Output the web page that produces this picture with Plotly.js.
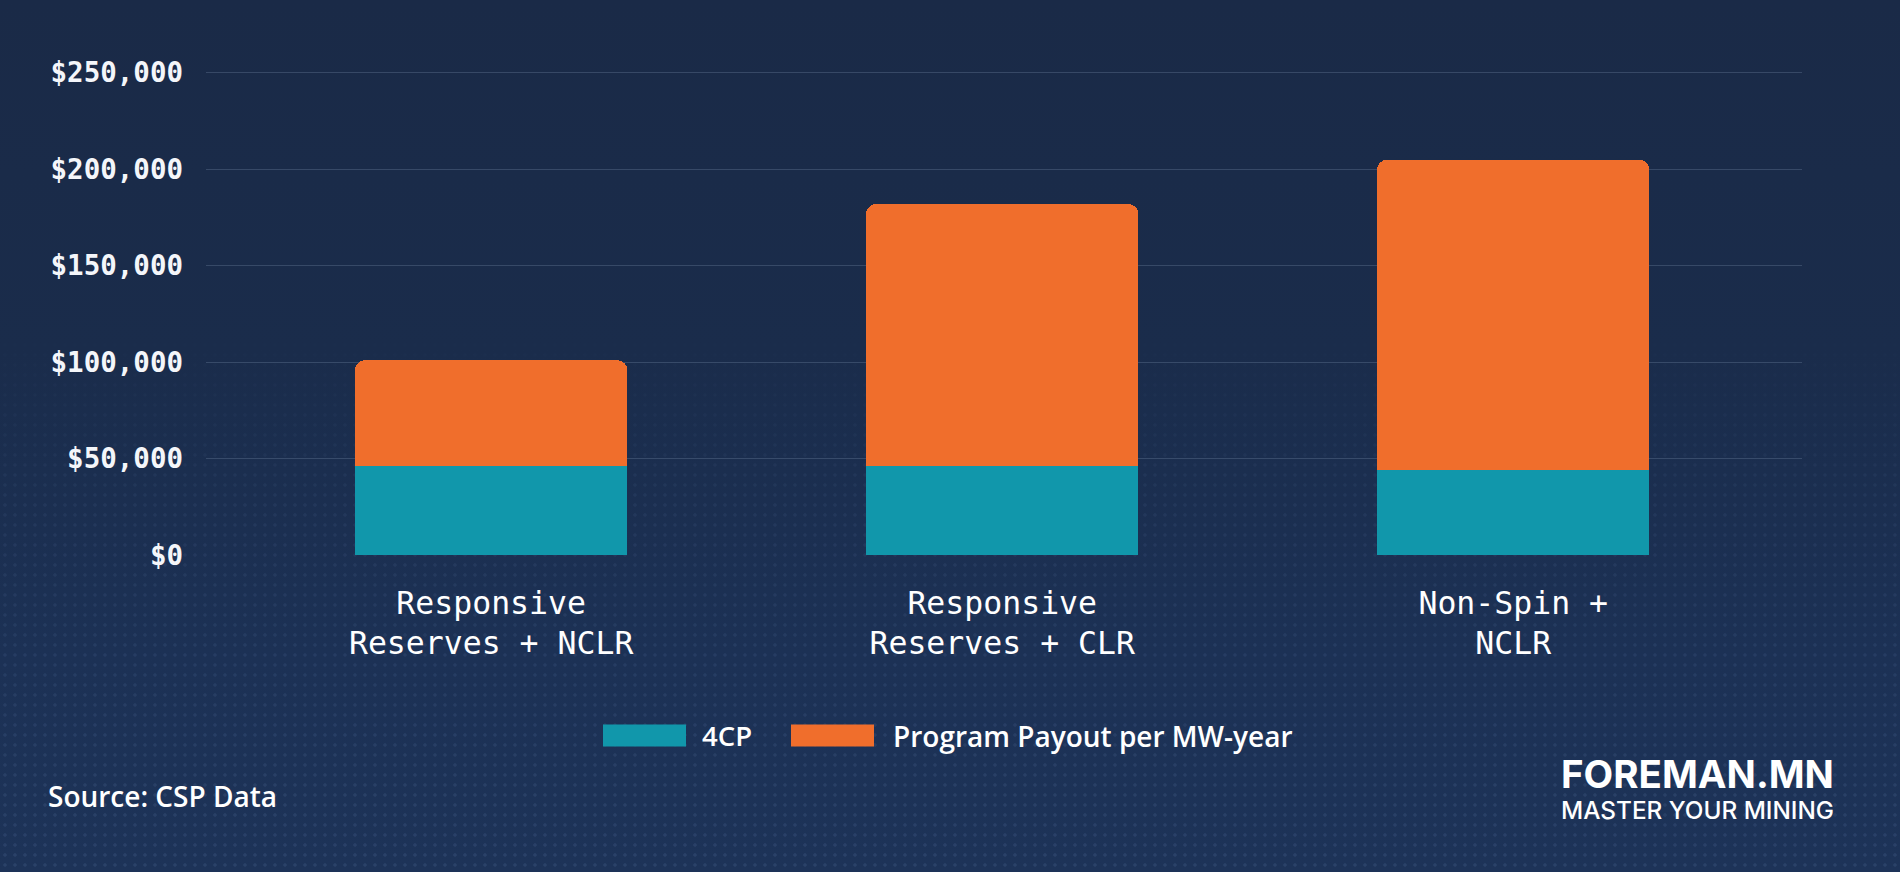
<!DOCTYPE html>
<html>
<head>
<meta charset="utf-8">
<script src="https://cdn.plot.ly/plotly-3.0.1.min.js"></script>
<style>
  html, body { margin:0; padding:0; width:1900px; height:872px; overflow:hidden; }
  body { background: linear-gradient(180deg, #1a2a47 0%, #1a2c4b 40%, #1c3155 75%, #1d3358 100%); position:relative; }
  #dots { position:absolute; left:0; top:0; width:1900px; height:872px;
    background-image: radial-gradient(circle, rgba(120,150,200,0.15) 1.4px, transparent 2px);
    background-size: 10px 10px;
    -webkit-mask-image: linear-gradient(180deg, transparent 0%, transparent 36%, rgba(0,0,0,0.6) 58%, #000 100%);
    mask-image: linear-gradient(180deg, transparent 0%, transparent 36%, rgba(0,0,0,0.6) 58%, #000 100%); }
  #chart { position:absolute; left:0; top:0; width:1900px; height:872px; }
</style>
</head>
<body>
<div id="dots"></div>
<div id="chart"></div>
<script>
// ---- data ----
const categories = ["Responsive<br>Reserves + NCLR", "Responsive<br>Reserves + CLR", "Non-Spin +<br>NCLR"];
const fourCP = [46000, 46000, 44000];
const programPayout = [55000, 136000, 161000];
const seriesNames = ["4CP", "Program Payout per MW-year"];
const yTickVals = [0, 50000, 100000, 150000, 200000, 250000];
const yTickText = ["$0", "$50,000", "$100,000", "$150,000", "$200,000", "$250,000"];
const sourceText = "Source: CSP Data";
const logoTitle = "FOREMAN.MN";
const logoSub = "MASTER YOUR MINING";

// ---- styles / layout ----
const TEAL = "#1197ab";
const ORANGE = "#f06e2c";
const W = 1900, H = 872;
const L = 206, R = 98, T = 69, B = 317;
const PW = W - L - R, PH = H - T - B;
const px = x => (x - L) / PW;
const py = y => (H - B - y) / PH;

const traces = [
  { type: "bar", x: [0,1,2], y: fourCP, name: seriesNames[0], width: 0.533,
    marker: { color: TEAL, line: { width: 0 } }, hoverinfo: "skip" },
  { type: "bar", x: [0,1,2], y: programPayout, name: seriesNames[1], width: 0.533,
    marker: { color: ORANGE, line: { width: 0 } }, hoverinfo: "skip" }
];

const legendY = 735.5, swH = 22;
const shapes = [
  { type: "rect", xref: "paper", yref: "paper", x0: px(603), x1: px(686), y0: py(legendY + swH/2), y1: py(legendY - swH/2), fillcolor: TEAL, line: { width: 0 } },
  { type: "rect", xref: "paper", yref: "paper", x0: px(791), x1: px(874), y0: py(legendY + swH/2), y1: py(legendY - swH/2), fillcolor: ORANGE, line: { width: 0 } }
];

const sansFont = "'Open Sans', 'Noto Sans', sans-serif";
const logoFont = "Inter, 'Open Sans', sans-serif";
const annotations = [
  { xref: "paper", yref: "paper", x: px(700), y: py(legendY), xanchor: "left", yanchor: "middle", showarrow: false, text: seriesNames[0], font: { family: sansFont, size: 27.5, weight: 600, color: "#ffffff" } },
  { xref: "paper", yref: "paper", x: px(891), y: py(legendY), xanchor: "left", yanchor: "middle", showarrow: false, text: seriesNames[1], font: { family: sansFont, size: 28, weight: 600, color: "#ffffff" } },
  { xref: "paper", yref: "paper", x: px(46), y: py(796), xanchor: "left", yanchor: "middle", showarrow: false, text: sourceText, font: { family: sansFont, size: 28, weight: 600, color: "#ffffff" } },
  { xref: "paper", yref: "paper", x: px(1836), y: py(788), xanchor: "right", yanchor: "middle", align: "right", showarrow: false,
    text: "<b><span style='font-size:38.5px'>" + logoTitle + "</span></b><br><span style='font-size:24.3px'>" + logoSub + "</span>",
    font: { family: logoFont, size: 23.5, weight: 500, color: "#ffffff" } }
];

const monoFont = "'DejaVu Sans Mono', 'Liberation Mono', monospace";
const layout = {
  width: W, height: H,
  margin: { l: L, r: R, t: T, b: B, pad: 0 },
  paper_bgcolor: "rgba(0,0,0,0)",
  plot_bgcolor: "rgba(0,0,0,0)",
  barmode: "stack",
  barcornerradius: 10,
  showlegend: false,
  xaxis: {
    range: [-0.558, 2.565],
    tickvals: [0,1,2], ticktext: categories,
    showgrid: false, zeroline: false, showline: false, ticks: "",
    ticklabelstandoff: 26,
    tickfont: { family: monoFont, size: 31.5, color: "#ffffff" },
    fixedrange: true
  },
  yaxis: {
    range: [0, 252000],
    tickvals: yTickVals, ticktext: yTickText,
    showgrid: true, gridcolor: "rgba(160,180,210,0.22)", gridwidth: 1,
    zeroline: false, showline: false, ticks: "",
    ticklabelstandoff: 22,
    tickfont: { family: monoFont, size: 27.5, weight: 700, color: "#f4f6fa" },
    fixedrange: true
  },
  shapes: shapes,
  annotations: annotations
};

Plotly.newPlot("chart", traces, layout, { displayModeBar: false, staticPlot: true });
</script>
</body>
</html>
